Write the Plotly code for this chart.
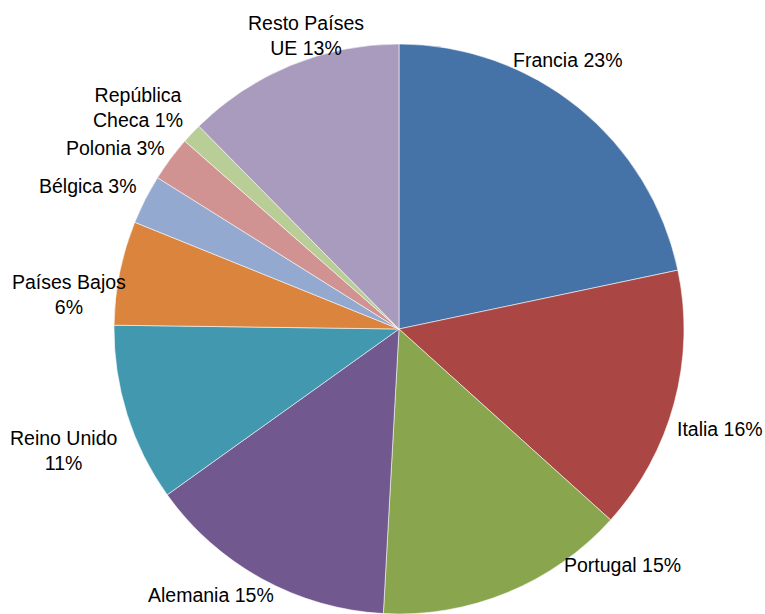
import plotly.graph_objects as go

# Data (shares) and displayed labels
paises = ["Francia", "Italia", "Portugal", "Alemania", "Reino Unido",
          "Países Bajos", "Bélgica", "Polonia", "República Checa", "Resto Países UE"]
cuotas = [21.7, 15.0, 14.2, 14.25, 10.1, 5.9, 2.8, 2.55, 1.15, 12.4]
etiquetas = ["Francia 23%", "Italia 16%", "Portugal 15%", "Alemania 15%",
             "Reino Unido<br>11%", "Países Bajos<br>6%", "Bélgica 3%",
             "Polonia 3%", "República<br>Checa 1%", "Resto Países<br>UE 13%"]

colores = ["#4572A7", "#AA4643", "#89A54E", "#71588F", "#4198AF",
           "#DB843D", "#93A9CF", "#D19392", "#B9CD96", "#A99BBD"]

W, H = 765, 614
# label centres in pixels (layout only)
label_pos = [(567, 60), (720, 429), (622, 565), (211, 595), (64, 450),
             (69, 294), (88, 186), (115, 148), (138, 108), (306, 35)]

fig = go.Figure(go.Pie(
    labels=paises,
    values=cuotas,
    sort=False,
    direction="clockwise",
    rotation=0,
    textinfo="none",
    hoverinfo="label+percent",
    marker=dict(colors=colores, line=dict(color="rgba(255,255,255,0.8)", width=0.7)),
    domain=dict(x=[113 / W, 685 / W], y=[0, 570 / H]),
    showlegend=False,
))

for txt, (px, py) in zip(etiquetas, label_pos):
    fig.add_annotation(
        x=px / W, y=1 - py / H, xref="paper", yref="paper",
        text=txt, showarrow=False, xanchor="center", yanchor="middle",
        align="center",
        font=dict(family="Liberation Sans, Arial, sans-serif", size=19.5, color="#000000"),
    )

fig.update_layout(
    width=W, height=H,
    margin=dict(l=0, r=0, t=0, b=0),
    paper_bgcolor="white",
    plot_bgcolor="white",
)

fig.write_html("out.html", config={"displayModeBar": False},
               post_script="document.body.style.margin='0';")
